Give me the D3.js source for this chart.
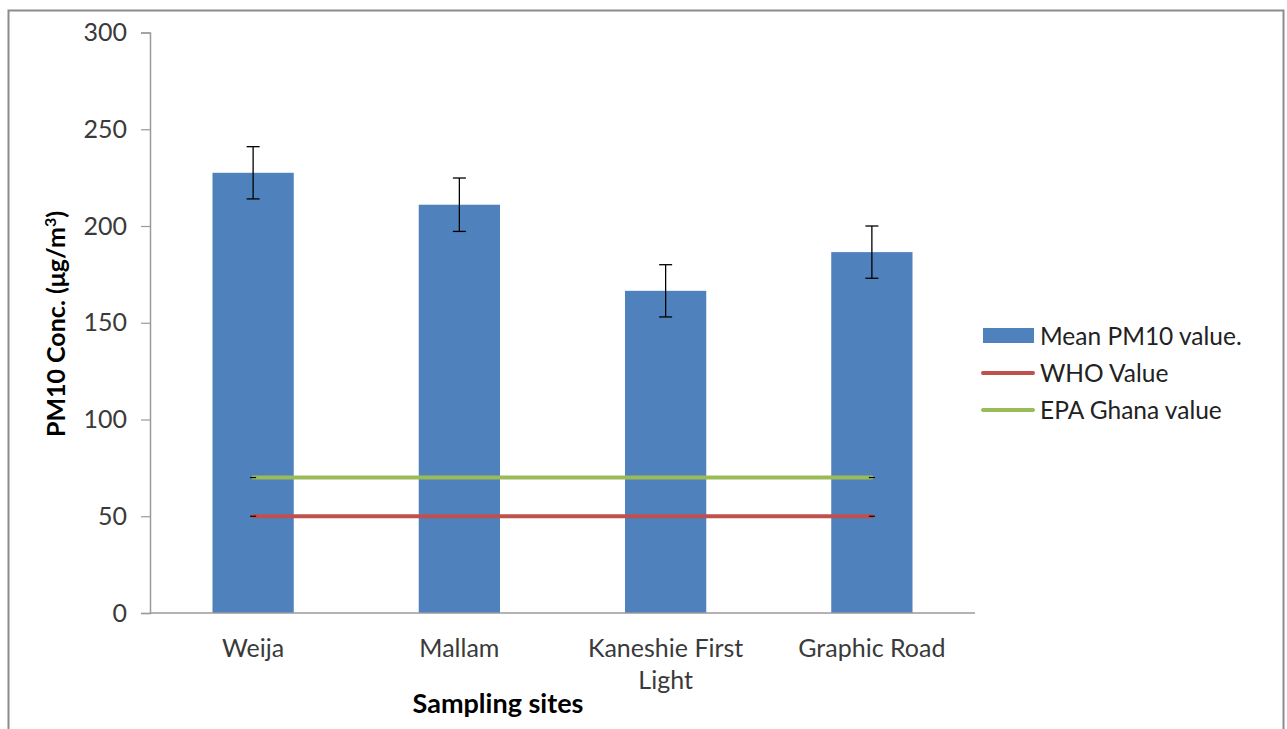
<!DOCTYPE html>
<html><head><meta charset="utf-8">
<script src="https://cdn.jsdelivr.net/npm/d3@7"></script>
<style>body{margin:0;background:#fff;} svg{display:block;}</style>
</head><body>
<svg id="c" width="1287" height="729"></svg>
<script>
const categories = ["Weija", "Mallam", "Kaneshie First Light", "Graphic Road"];
const meanValues = [227.5, 211, 166.5, 186.5];
const errValues = [13.5, 13.8, 13.5, 13.5];
const whoValues = [50, 50, 50, 50];
const epaValues = [70, 70, 70, 70];
const yTicks = [0, 50, 100, 150, 200, 250, 300];
const seriesNames = ["Mean PM10 value.", "WHO Value", "EPA Ghana value"];

const FONT = "Lato, 'Open Sans', sans-serif";
const svg = d3.select("#c");
const m = {left:150, right:312, top:32.5, bottom:116};
const W = 1287, H = 729;

// frame
svg.append("path").attr("d", `M8.5,729 V10.5 H1283.5 V729`).attr("fill","none").attr("stroke","#8c8c8c").attr("stroke-width",2);

const x = d3.scaleBand().domain(categories).range([m.left, W - m.right]).paddingInner(0.606).paddingOuter(0.303);
const y = d3.scaleLinear().domain([0,300]).range([H - m.bottom, m.top]);

// y axis
const ya = svg.append("g").attr("transform",`translate(${m.left},0)`)
  .call(d3.axisLeft(y).tickValues(yTicks).tickSize(9).tickPadding(14));
ya.select(".domain").attr("stroke","#9a9a9a").attr("stroke-width",1.5);
ya.selectAll(".tick line").attr("stroke","#9a9a9a").attr("stroke-width",1.2);
ya.selectAll("text").attr("font-family",FONT).attr("font-size",25).attr("fill","#3a3a3a");

// bars
svg.append("g").selectAll("rect").data(categories).join("rect")
  .attr("x", d=>x(d)).attr("width", x.bandwidth())
  .attr("y", (d,i)=>y(meanValues[i])).attr("height",(d,i)=>y(0)-y(meanValues[i]))
  .attr("fill","#4f81bd");

// x axis line
svg.append("line").attr("x1",m.left).attr("x2",W-m.right).attr("y1",y(0)).attr("y2",y(0))
  .attr("stroke","#9a9a9a").attr("stroke-width",1.5);

// error bars
const eg = svg.append("g").attr("stroke","#000").attr("stroke-width",1.3);
categories.forEach((c,i)=>{
  const cx = x(c) + x.bandwidth()/2;
  const t = y(meanValues[i]+errValues[i]), b = y(meanValues[i]-errValues[i]);
  eg.append("line").attr("x1",cx).attr("x2",cx).attr("y1",t).attr("y2",b);
  eg.append("line").attr("x1",cx-6.5).attr("x2",cx+6.5).attr("y1",t).attr("y2",t);
  eg.append("line").attr("x1",cx-6.5).attr("x2",cx+6.5).attr("y1",b).attr("y2",b);
});

// reference lines
const line = d3.line().x((d,i)=>x(categories[i])+x.bandwidth()/2).y(d=>y(d));
[[epaValues,"#9bbb59"],[whoValues,"#c0504d"]].forEach(([vals,col])=>{
  svg.append("path").attr("d",line(vals)).attr("fill","none").attr("stroke",col).attr("stroke-width",4).attr("stroke-linecap","round");
  [0, vals.length-1].forEach(i=>{
    const cx = x(categories[i])+x.bandwidth()/2;
    svg.append("line").attr("x1",cx-3).attr("x2",cx+3).attr("y1",y(vals[i])).attr("y2",y(vals[i]))
      .attr("stroke","#000").attr("stroke-width",1.2);
  });
});

// x labels
const xl = svg.append("g").attr("font-family",FONT).attr("font-size",25).attr("fill","#3a3a3a").attr("text-anchor","middle");
categories.forEach(c=>{
  const cx = x(c)+x.bandwidth()/2;
  const t = xl.append("text").attr("x",cx).attr("y",657);
  if (c === "Kaneshie First Light") {
    t.append("tspan").attr("x",cx).attr("dy",0).text("Kaneshie First");
    t.append("tspan").attr("x",cx).attr("dy",32).text("Light");
  } else t.text(c);
});

// axis titles
svg.append("text").attr("x",498).attr("y",713).attr("text-anchor","middle")
  .attr("font-family",FONT).attr("font-weight","bold").attr("font-size",27).attr("fill","#000").text("Sampling sites");
const yt = svg.append("text").attr("transform","translate(65,324) rotate(-90)").attr("text-anchor","middle")
  .attr("font-family",FONT).attr("font-weight","bold").attr("font-size",25).attr("fill","#000");
yt.append("tspan").text("PM10 Conc. (μg/m");
yt.append("tspan").attr("baseline-shift","super").attr("font-size",16).text("3");
yt.append("tspan").text(")");

// legend
const lg = svg.append("g").attr("font-family",FONT).attr("font-size",24.5).attr("fill","#222");
const ly = [336, 373, 410];
lg.append("rect").attr("x",983).attr("y",ly[0]-8).attr("width",51).attr("height",15).attr("fill","#4f81bd");
lg.append("line").attr("x1",983).attr("x2",1033).attr("y1",ly[1]).attr("y2",ly[1]).attr("stroke","#c0504d").attr("stroke-width",4).attr("stroke-linecap","round");
lg.append("line").attr("x1",983).attr("x2",1033).attr("y1",ly[2]).attr("y2",ly[2]).attr("stroke","#9bbb59").attr("stroke-width",4).attr("stroke-linecap","round");
seriesNames.forEach((s,i)=>{
  lg.append("text").attr("x",1040).attr("y",ly[i]+9).text(s);
});
</script>
</body></html>
